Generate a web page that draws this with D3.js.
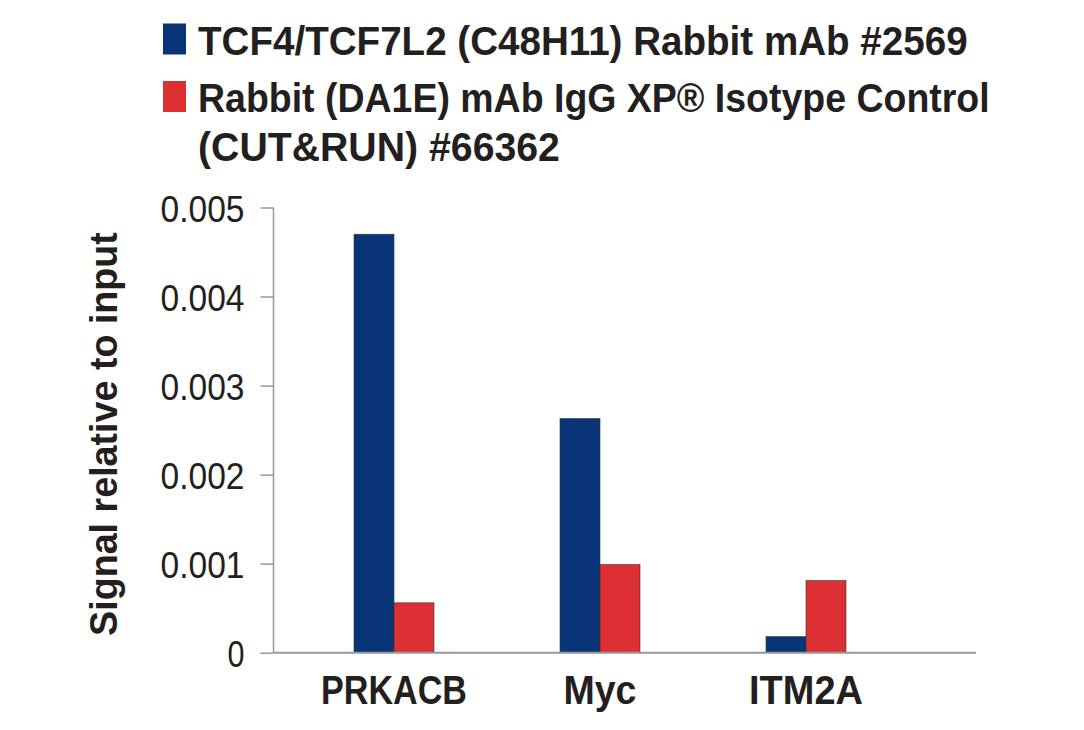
<!DOCTYPE html>
<html><head><meta charset="utf-8">
<script src="https://cdn.jsdelivr.net/npm/d3@7"></script>
<style>
body{margin:0;background:#fff;}
text{font-family:"Liberation Sans","Arial",sans-serif;}
</style></head>
<body><svg id="chart" width="1084" height="730"></svg>
<script>
const categories = ["PRKACB", "Myc", "ITM2A"];
const seriesNames = ["TCF4/TCF7L2 (C48H11) Rabbit mAb #2569", "Rabbit (DA1E) mAb IgG XP® Isotype Control (CUT&RUN) #66362"];
const tcf4Values = [0.00470, 0.00263, 0.00018];
const iggValues = [0.00056, 0.00099, 0.00081];
const yTicks = [0, 0.001, 0.002, 0.003, 0.004, 0.005];
const yTickLabels = ["0", "0.001", "0.002", "0.003", "0.004", "0.005"];
const colors = ["#083577", "#dc3033"];

const svg = d3.select("#chart");

// squeeze a text horizontally (condensed look) around its anchor to a target width
function condense(t, x, y, targetW, rot) {
  const w = t.node().getComputedTextLength();
  const sx = targetW / w;
  t.attr("x", 0).attr("y", 0)
   .attr("transform", `translate(${x},${y})${rot ? ` rotate(${rot})` : ""} scale(${sx},1)`);
}

const x0 = d3.scaleBand().domain(categories).range([291, 909]).paddingInner(0).paddingOuter(0);
const barW = 40;
const x1 = d3.scaleBand().domain([0,1]).range([x0.bandwidth()/2 - barW, x0.bandwidth()/2 + barW]);
const y = d3.scaleLinear().domain([0, 0.005]).range([652.7, 207.5]);

// y axis
const yAxis = d3.axisLeft(y).tickValues(yTicks).tickFormat((d,i)=>yTickLabels[i]).tickSize(13).tickSizeOuter(0);
const yg = svg.append("g").attr("transform","translate(273.5,0)").call(yAxis);
yg.select(".domain").attr("stroke","#999").attr("stroke-width",1.5).attr("d", `M0,${y(0.005)}V${y(0)}`);
yg.selectAll(".tick line").attr("stroke","#999").attr("stroke-width",1.5);
yg.selectAll(".tick text").attr("fill","#231f20").attr("font-size",37).attr("font-family","'Liberation Sans',sans-serif")
  .attr("text-anchor","end").attr("dy",null)
  .each(function(d,i){
    const t = d3.select(this);
    const w = this.getComputedTextLength();
    const target = yTickLabels[i].length === 1 ? 17 : 84;
    t.attr("x",0).attr("y",0).attr("transform",`translate(-29,13.5) scale(${target/w},1)`);
  });

// bars
const data = categories.map((c,i)=>({cat:c, vals:[tcf4Values[i], iggValues[i]]}));
const groups = svg.append("g").selectAll("g").data(data).join("g").attr("transform",d=>`translate(${x0(d.cat)},0)`);
groups.selectAll("rect").data(d=>d.vals.map((v,k)=>({v,k}))).join("rect")
  .attr("x",d=>x1(d.k)).attr("width",x1.bandwidth())
  .attr("y",d=>y(d.v)).attr("height",d=>y(0)-y(d.v))
  .attr("fill",d=>colors[d.k]).attr("stroke","#333").attr("stroke-width",0.6);

// x axis line
svg.append("line").attr("x1",273.5).attr("x2",976).attr("y1",y(0)).attr("y2",y(0)).attr("stroke","#999").attr("stroke-width",2);

// x labels
const xLabelW = {"PRKACB":146, "Myc":73, "ITM2A":114};
svg.append("g").selectAll("text").data(categories).join("text")
  .attr("text-anchor","middle").attr("font-size",41).attr("font-weight","bold").attr("fill","#231f20")
  .text(d=>d)
  .each(function(d){ condense(d3.select(this), x0(d)+x0.bandwidth()/2, 703.5, xLabelW[d]); });

// y title
const yt = svg.append("text").attr("text-anchor","middle")
  .attr("font-size",39).attr("font-weight","bold").attr("fill","#231f20")
  .text("Signal relative to input");
condense(yt, 117, 434, 404, -90);

// legend
const leg = svg.append("g");
leg.append("rect").attr("x",163).attr("y",23.5).attr("width",23).attr("height",31).attr("fill",colors[0]);
leg.append("rect").attr("x",163).attr("y",81).attr("width",23).attr("height",31).attr("fill",colors[1]);
const legLines = [
  {t:seriesNames[0], y:54.5, w:770},
  {t:"Rabbit (DA1E) mAb IgG XP® Isotype Control", y:111.5, w:792},
  {t:"(CUT&RUN) #66362", y:160.5, w:362}
];
leg.selectAll("text.l").data(legLines).join("text").attr("class","l")
  .attr("font-size",41).attr("font-weight","bold").attr("fill","#231f20")
  .text(d=>d.t)
  .each(function(d){ condense(d3.select(this), 198, d.y, d.w); });
</script></body></html>
